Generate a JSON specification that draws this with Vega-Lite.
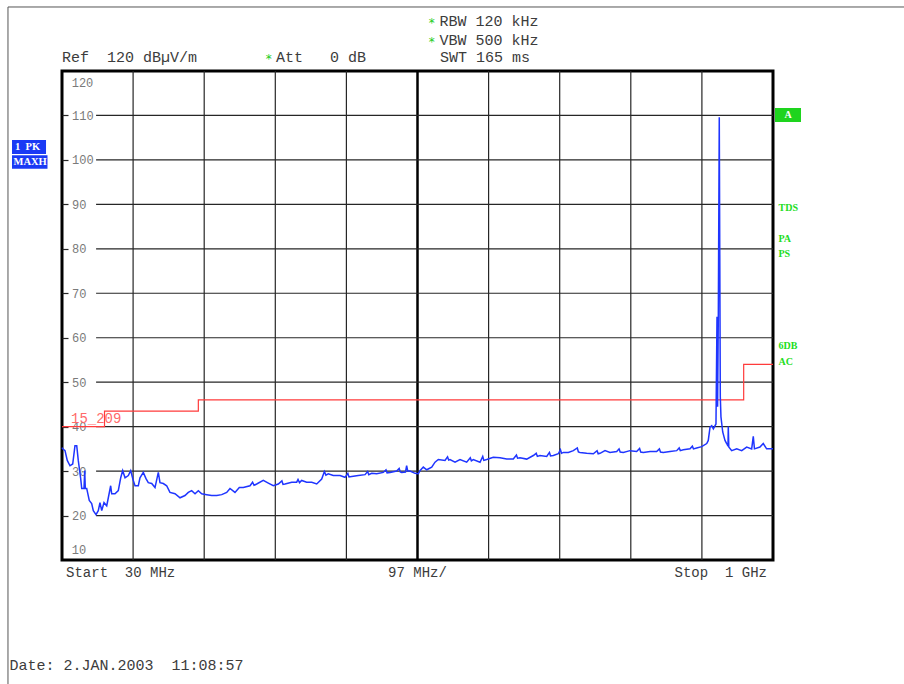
{
  "$schema": "https://vega.github.io/schema/vega-lite/v6.json",
  "width": 711,
  "height": 489,
  "autosize": "none",
  "padding": {"left": 62, "top": 71, "right": 131, "bottom": 124},
  "background": "#ffffff",
  "config": {"view": {"stroke": "#000000", "strokeWidth": 3}},
  "data": {"values": [{}]},
  "resolve": {"axis": {"x": "independent", "y": "independent"}},
  "datasets": {
    "xgrid": [{"f": 127}, {"f": 224}, {"f": 321}, {"f": 418}, {"f": 612}, {"f": 709}, {"f": 806}, {"f": 903}],
    "ygrid": [{"v": 20}, {"v": 30}, {"v": 40}, {"v": 50}, {"v": 60}, {"v": 70}, {"v": 80}, {"v": 90}, {"v": 100}, {"v": 110}],
    "limit": [{"f": 30, "v": 40}, {"f": 88, "v": 43.5}, {"f": 216, "v": 46}, {"f": 960, "v": 54}, {"f": 1000, "v": 54}],
    "trace": [
      {"f":30,"v":35.3},{"f":31,"v":35.0},{"f":34.1,"v":34.6},{"f":37.2,"v":32.4},{"f":40.9,"v":31.2},{"f":44.6,"v":31.6},{"f":47.7,"v":35.7},{"f":50.1,"v":35.7},{"f":52.2,"v":32.4},{"f":55.5,"v":28.3},{"f":56.9,"v":26.1},{"f":60,"v":26.1},{"f":61,"v":30.1},{"f":61.8,"v":26.1},{"f":63.7,"v":26.1},{"f":67.2,"v":23.4},{"f":70.5,"v":22.7},{"f":72.7,"v":21.1},{"f":76.4,"v":20.2},{"f":79.5,"v":21.1},{"f":81.8,"v":22.9},{"f":84.2,"v":21.1},{"f":87.3,"v":22.9},{"f":91,"v":22.2},{"f":93.2,"v":24.0},{"f":96.4,"v":26.7},{"f":97.8,"v":24.9},{"f":102.3,"v":24.9},{"f":106.8,"v":25.6},{"f":110.1,"v":28.5},{"f":112.8,"v":30.1},{"f":116,"v":28.5},{"f":120.5,"v":29.0},{"f":123.7,"v":30.1},{"f":126.5,"v":28.3},{"f":129.6,"v":26.7},{"f":134.1,"v":26.7},{"f":136.4,"v":28.5},{"f":140.9,"v":29.7},{"f":144.6,"v":28.3},{"f":147.7,"v":27.4},{"f":152.4,"v":27.2},{"f":156.9,"v":26.3},{"f":161.4,"v":29.7},{"f":163.7,"v":27.4},{"f":168.2,"v":27.2},{"f":172.8,"v":26.7},{"f":177.3,"v":25.2},{"f":184.2,"v":24.9},{"f":191,"v":24.0},{"f":197.8,"v":24.5},{"f":202.3,"v":25.2},{"f":206.9,"v":25.6},{"f":211.5,"v":24.9},{"f":216,"v":25.6},{"f":220.6,"v":24.9},{"f":227.4,"v":24.7},{"f":234.2,"v":24.5},{"f":241.1,"v":24.5},{"f":247.9,"v":24.7},{"f":254.7,"v":25.2},{"f":259.2,"v":26.1},{"f":266,"v":25.2},{"f":271.9,"v":26.3},{"f":277.3,"v":26.3},{"f":286.5,"v":26.7},{"f":290,"v":27.5},{"f":292,"v":26.8},{"f":295.6,"v":27.1},{"f":304.6,"v":27.9},{"f":311.5,"v":27.3},{"f":318.3,"v":26.7},{"f":325.1,"v":27.1},{"f":330,"v":27.8},{"f":331.5,"v":27.0},{"f":334.2,"v":27.1},{"f":343.4,"v":27.5},{"f":350.2,"v":27.5},{"f":352,"v":28.1},{"f":354,"v":27.4},{"f":357,"v":27.9},{"f":363.8,"v":27.5},{"f":370.7,"v":27.5},{"f":377.5,"v":27.1},{"f":384.3,"v":28.2},{"f":388,"v":29.9},{"f":390,"v":29.1},{"f":393.3,"v":29.4},{"f":400.1,"v":29.0},{"f":409.3,"v":29.0},{"f":416.1,"v":28.6},{"f":420,"v":29.5},{"f":421.5,"v":28.7},{"f":425.2,"v":28.8},{"f":434.2,"v":29.0},{"f":443.4,"v":29.2},{"f":447,"v":29.9},{"f":448.5,"v":29.2},{"f":452.5,"v":29.5},{"f":459.3,"v":29.4},{"f":468.3,"v":29.7},{"f":472,"v":30.3},{"f":473.5,"v":29.6},{"f":477.5,"v":29.7},{"f":486.6,"v":30.0},{"f":490,"v":30.6},{"f":491.5,"v":29.8},{"f":493.4,"v":29.7},{"f":498.6,"v":29.8},{"f":500.2,"v":31.2},{"f":501.7,"v":30.0},{"f":504.8,"v":30.0},{"f":511.6,"v":29.5},{"f":516.1,"v":29.4},{"f":518.4,"v":30.1},{"f":522.9,"v":30.9},{"f":527.6,"v":30.3},{"f":534.4,"v":30.9},{"f":538.9,"v":32.0},{"f":543.4,"v":32.6},{"f":552.5,"v":32.4},{"f":556,"v":33.2},{"f":557.5,"v":32.5},{"f":559.3,"v":32.6},{"f":566.2,"v":32.0},{"f":573,"v":32.6},{"f":582.1,"v":32.0},{"f":587,"v":33.0},{"f":588.5,"v":32.3},{"f":591.1,"v":32.6},{"f":600.3,"v":32.0},{"f":604,"v":33.3},{"f":605.5,"v":32.4},{"f":609.4,"v":32.6},{"f":618.4,"v":33.1},{"f":627.6,"v":33.0},{"f":636.7,"v":32.7},{"f":645.7,"v":32.7},{"f":650,"v":33.6},{"f":651.5,"v":32.9},{"f":654.8,"v":33.0},{"f":664,"v":32.7},{"f":673,"v":33.5},{"f":677,"v":34.0},{"f":678.5,"v":33.3},{"f":682.1,"v":33.5},{"f":691.3,"v":33.3},{"f":695,"v":34.2},{"f":696.5,"v":33.4},{"f":700.3,"v":33.5},{"f":707.1,"v":33.9},{"f":710,"v":34.8},{"f":711.5,"v":34.0},{"f":714,"v":34.2},{"f":720.8,"v":34.2},{"f":727.6,"v":34.6},{"f":733,"v":35.2},{"f":734.5,"v":34.3},{"f":736.7,"v":34.2},{"f":745.8,"v":34.0},{"f":754.9,"v":33.9},{"f":760,"v":34.6},{"f":761.5,"v":33.9},{"f":764,"v":34.0},{"f":770.8,"v":34.6},{"f":777.6,"v":34.2},{"f":786.8,"v":34.4},{"f":790,"v":35.0},{"f":791.5,"v":34.3},{"f":795.8,"v":34.2},{"f":804.9,"v":34.6},{"f":814,"v":34.4},{"f":818,"v":35.1},{"f":819.5,"v":34.3},{"f":823.1,"v":34.2},{"f":832.3,"v":34.4},{"f":841.3,"v":34.4},{"f":845,"v":35.0},{"f":846.5,"v":34.3},{"f":850.3,"v":34.2},{"f":859.5,"v":34.4},{"f":868.6,"v":34.6},{"f":872,"v":35.2},{"f":873.5,"v":34.6},{"f":877.6,"v":34.8},{"f":886.8,"v":35.0},{"f":890,"v":35.6},{"f":891.5,"v":35.0},{"f":895.9,"v":35.2},{"f":902.7,"v":35.5},{"f":909.6,"v":36.2},{"f":911.7,"v":36.9},{"f":914.1,"v":39.9},{"f":916.4,"v":40.2},{"f":918.6,"v":39.5},{"f":922.2,"v":40.6},{"f":923.6,"v":64.7},{"f":924.4,"v":44.5},{"f":925.4,"v":65.0},{"f":926.7,"v":109.6},{"f":928.1,"v":46.7},{"f":929,"v":42.2},{"f":931.4,"v":38.8},{"f":934.5,"v":36.9},{"f":936.8,"v":36.2},{"f":938.6,"v":35.6},{"f":939,"v":40.0},{"f":939.7,"v":35.4},{"f":943.6,"v":34.6},{"f":950.5,"v":35.0},{"f":957.3,"v":34.6},{"f":964.1,"v":35.4},{"f":970.9,"v":35.0},{"f":973.1,"v":37.8},{"f":974.7,"v":35.0},{"f":982.2,"v":35.4},{"f":986.7,"v":36.2},{"f":991.3,"v":35.0},{"f":997.2,"v":35.0},{"f":1000,"v":35.0}
    ]
  },
  "layer": [
    {
      "data": {"name": "xgrid"},
      "mark": {"type": "rule", "color": "#262626", "strokeWidth": 1.2},
      "encoding": {"x": {"field": "f", "type": "quantitative", "scale": {"domain": [30, 1000], "nice": false, "zero": false}, "axis": null}}
    },
    {
      "mark": {"type": "rule", "color": "#000000", "strokeWidth": 2.5},
      "encoding": {"x": {"datum": 515, "type": "quantitative", "scale": {"domain": [30, 1000], "nice": false, "zero": false}, "axis": null}}
    },
    {
      "data": {"name": "ygrid"},
      "mark": {"type": "rule", "color": "#262626", "strokeWidth": 1.2},
      "encoding": {
        "x": {"datum": 76.5, "type": "quantitative", "scale": {"domain": [30, 1000], "nice": false, "zero": false}, "axis": null},
        "x2": {"datum": 1000},
        "y": {"field": "v", "type": "quantitative", "scale": {"domain": [10, 120], "nice": false, "zero": false}, "axis": null}
      }
    },
    {
      "data": {"name": "limit"},
      "mark": {"type": "line", "color": "#ff3b3b", "strokeWidth": 1.2, "interpolate": "step-after"},
      "encoding": {
        "x": {"field": "f", "type": "quantitative", "scale": {"domain": [30, 1000], "nice": false, "zero": false}, "axis": null},
        "y": {"field": "v", "type": "quantitative", "scale": {"domain": [10, 120], "nice": false, "zero": false}, "axis": null}
      }
    },
    {
      "data": {"name": "trace"},
      "mark": {"type": "line", "color": "#1f35ff", "strokeWidth": 1.5},
      "encoding": {
        "x": {"field": "f", "type": "quantitative", "scale": {"domain": [30, 1000], "nice": false, "zero": false}, "axis": null},
        "y": {"field": "v", "type": "quantitative", "scale": {"domain": [10, 120], "nice": false, "zero": false},
          "axis": {"values": [20, 30, 40, 50, 60, 70, 80, 90, 100, 110], "title": null, "domain": false, "grid": false, "ticks": true, "tickSize": -6, "tickColor": "#262626", "tickWidth": 1.2, "labelPadding": -3.5, "labelAlign": "left", "labelBaseline": "middle", "labelColor": "#7a7a7a", "labelFont": "Liberation Mono", "labelFontSize": 12}}
      }
    },
    {
      "mark": {"type": "text", "text": "120", "font": "Liberation Mono", "fontSize": 12, "color": "#7a7a7a", "align": "left", "baseline": "middle"},
      "encoding": {"x": {"datum": 43.2, "type": "quantitative", "scale": {"domain": [30, 1000], "nice": false, "zero": false}, "axis": null}, "y": {"datum": 117.3, "type": "quantitative", "scale": {"domain": [10, 120], "nice": false, "zero": false}, "axis": null}}
    },
    {
      "mark": {"type": "text", "text": "10", "font": "Liberation Mono", "fontSize": 12, "color": "#7a7a7a", "align": "left", "baseline": "middle"},
      "encoding": {"x": {"datum": 43.2, "type": "quantitative", "scale": {"domain": [30, 1000], "nice": false, "zero": false}, "axis": null}, "y": {"datum": 12.25, "type": "quantitative", "scale": {"domain": [10, 120], "nice": false, "zero": false}, "axis": null}}
    },
    {
      "mark": {"type": "text", "text": "15_209", "font": "Liberation Mono", "fontSize": 14, "color": "#ff6a6a", "align": "left", "baseline": "middle"},
      "encoding": {"x": {"datum": 42.3, "type": "quantitative", "scale": {"domain": [30, 1000], "nice": false, "zero": false}, "axis": null}, "y": {"datum": 41.72, "type": "quantitative", "scale": {"domain": [10, 120], "nice": false, "zero": false}, "axis": null}}
    },
    {
      "mark": {"type": "text", "text": "*", "font": "DejaVu Sans", "fontSize": 12, "color": "#22cc22", "align": "center", "baseline": "middle", "dy": 2},
      "encoding": {"x": {"datum": 534.3, "type": "quantitative", "scale": {"domain": [30, 1000], "nice": false, "zero": false}, "axis": null}, "y": {"datum": 131.25, "type": "quantitative", "scale": {"domain": [10, 120], "nice": false, "zero": false}, "axis": null}}
    },
    {
      "mark": {"type": "text", "text": "RBW 120 kHz", "font": "Liberation Mono", "fontSize": 15, "color": "#3c3c3c", "align": "left", "baseline": "middle"},
      "encoding": {"x": {"datum": 545.0, "type": "quantitative", "scale": {"domain": [30, 1000], "nice": false, "zero": false}, "axis": null}, "y": {"datum": 131.25, "type": "quantitative", "scale": {"domain": [10, 120], "nice": false, "zero": false}, "axis": null}}
    },
    {
      "mark": {"type": "text", "text": "*", "font": "DejaVu Sans", "fontSize": 12, "color": "#22cc22", "align": "center", "baseline": "middle", "dy": 2},
      "encoding": {"x": {"datum": 534.3, "type": "quantitative", "scale": {"domain": [30, 1000], "nice": false, "zero": false}, "axis": null}, "y": {"datum": 126.97, "type": "quantitative", "scale": {"domain": [10, 120], "nice": false, "zero": false}, "axis": null}}
    },
    {
      "mark": {"type": "text", "text": "VBW 500 kHz", "font": "Liberation Mono", "fontSize": 15, "color": "#3c3c3c", "align": "left", "baseline": "middle"},
      "encoding": {"x": {"datum": 545.0, "type": "quantitative", "scale": {"domain": [30, 1000], "nice": false, "zero": false}, "axis": null}, "y": {"datum": 126.97, "type": "quantitative", "scale": {"domain": [10, 120], "nice": false, "zero": false}, "axis": null}}
    },
    {
      "mark": {"type": "text", "text": "Ref\u00a0\u00a0120 dBµV/m", "font": "Liberation Mono", "fontSize": 15, "color": "#3c3c3c", "align": "left", "baseline": "middle"},
      "encoding": {"x": {"datum": 30, "type": "quantitative", "scale": {"domain": [30, 1000], "nice": false, "zero": false}, "axis": null}, "y": {"datum": 123.15, "type": "quantitative", "scale": {"domain": [10, 120], "nice": false, "zero": false}, "axis": null}}
    },
    {
      "mark": {"type": "text", "text": "*", "font": "DejaVu Sans", "fontSize": 12, "color": "#22cc22", "align": "center", "baseline": "middle", "dy": 2},
      "encoding": {"x": {"datum": 312.0, "type": "quantitative", "scale": {"domain": [30, 1000], "nice": false, "zero": false}, "axis": null}, "y": {"datum": 123.15, "type": "quantitative", "scale": {"domain": [10, 120], "nice": false, "zero": false}, "axis": null}}
    },
    {
      "mark": {"type": "text", "text": "Att\u00a0\u00a0\u00a00 dB", "font": "Liberation Mono", "fontSize": 15, "color": "#3c3c3c", "align": "left", "baseline": "middle"},
      "encoding": {"x": {"datum": 322.0, "type": "quantitative", "scale": {"domain": [30, 1000], "nice": false, "zero": false}, "axis": null}, "y": {"datum": 123.15, "type": "quantitative", "scale": {"domain": [10, 120], "nice": false, "zero": false}, "axis": null}}
    },
    {
      "mark": {"type": "text", "text": "SWT 165 ms", "font": "Liberation Mono", "fontSize": 15, "color": "#3c3c3c", "align": "left", "baseline": "middle"},
      "encoding": {"x": {"datum": 545.7, "type": "quantitative", "scale": {"domain": [30, 1000], "nice": false, "zero": false}, "axis": null}, "y": {"datum": 123.15, "type": "quantitative", "scale": {"domain": [10, 120], "nice": false, "zero": false}, "axis": null}}
    },
    {
      "mark": {"type": "text", "text": "Start\u00a0\u00a030 MHz", "font": "Liberation Mono", "fontSize": 14, "color": "#3c3c3c", "align": "left", "baseline": "middle"},
      "encoding": {"x": {"datum": 35.5, "type": "quantitative", "scale": {"domain": [30, 1000], "nice": false, "zero": false}, "axis": null}, "y": {"datum": 7.08, "type": "quantitative", "scale": {"domain": [10, 120], "nice": false, "zero": false}, "axis": null}}
    },
    {
      "mark": {"type": "text", "text": "97 MHz/", "font": "Liberation Mono", "fontSize": 14, "color": "#3c3c3c", "align": "center", "baseline": "middle"},
      "encoding": {"x": {"datum": 515, "type": "quantitative", "scale": {"domain": [30, 1000], "nice": false, "zero": false}, "axis": null}, "y": {"datum": 7.08, "type": "quantitative", "scale": {"domain": [10, 120], "nice": false, "zero": false}, "axis": null}}
    },
    {
      "mark": {"type": "text", "text": "Stop\u00a0\u00a01 GHz", "font": "Liberation Mono", "fontSize": 14, "color": "#3c3c3c", "align": "right", "baseline": "middle"},
      "encoding": {"x": {"datum": 991.8, "type": "quantitative", "scale": {"domain": [30, 1000], "nice": false, "zero": false}, "axis": null}, "y": {"datum": 7.08, "type": "quantitative", "scale": {"domain": [10, 120], "nice": false, "zero": false}, "axis": null}}
    },
    {
      "mark": {"type": "text", "text": "Date: 2.JAN.2003\u00a0\u00a011:08:57", "font": "Liberation Mono", "fontSize": 15, "color": "#3c3c3c", "align": "left", "baseline": "middle"},
      "encoding": {"x": {"datum": -41.6, "type": "quantitative", "scale": {"domain": [30, 1000], "nice": false, "zero": false}, "axis": null}, "y": {"datum": -13.62, "type": "quantitative", "scale": {"domain": [10, 120], "nice": false, "zero": false}, "axis": null}}
    },
    {
      "mark": {"type": "rule", "color": "#555555", "strokeWidth": 1},
      "encoding": {
        "x": {"datum": -43.7, "type": "quantitative", "scale": {"domain": [30, 1000], "nice": false, "zero": false}, "axis": null},
        "y": {"datum": 134.4, "type": "quantitative", "scale": {"domain": [10, 120], "nice": false, "zero": false}, "axis": null},
        "y2": {"datum": -19.2}
      }
    },
    {
      "mark": {"type": "rule", "color": "#555555", "strokeWidth": 1},
      "encoding": {
        "x": {"datum": -43.7, "type": "quantitative", "scale": {"domain": [30, 1000], "nice": false, "zero": false}, "axis": null},
        "x2": {"datum": 1186.9},
        "y": {"datum": 134.4, "type": "quantitative", "scale": {"domain": [10, 120], "nice": false, "zero": false}, "axis": null}
      }
    },
    {
      "mark": {"type": "rect", "color": "#1a3af5"},
      "encoding": {
        "x": {"datum": -38.2, "type": "quantitative", "scale": {"domain": [30, 1000], "nice": false, "zero": false}, "axis": null},
        "x2": {"datum": 8.2},
        "y": {"datum": 104.48, "type": "quantitative", "scale": {"domain": [10, 120], "nice": false, "zero": false}, "axis": null},
        "y2": {"datum": 101.33}
      }
    },
    {
      "mark": {"type": "rect", "color": "#1a3af5"},
      "encoding": {
        "x": {"datum": -38.2, "type": "quantitative", "scale": {"domain": [30, 1000], "nice": false, "zero": false}, "axis": null},
        "x2": {"datum": 10.2},
        "y": {"datum": 101.04, "type": "quantitative", "scale": {"domain": [10, 120], "nice": false, "zero": false}, "axis": null},
        "y2": {"datum": 98.02}
      }
    },
    {
      "mark": {"type": "text", "text": "1\u00a0\u00a0PK", "font": "Liberation Serif", "fontSize": 10.5, "fontWeight": "bold", "color": "#ffffff", "align": "left", "baseline": "middle"},
      "encoding": {"x": {"datum": -34.1, "type": "quantitative", "scale": {"domain": [30, 1000], "nice": false, "zero": false}, "axis": null}, "y": {"datum": 102.9, "type": "quantitative", "scale": {"domain": [10, 120], "nice": false, "zero": false}, "axis": null}}
    },
    {
      "mark": {"type": "text", "text": "MAXH", "font": "Liberation Serif", "fontSize": 10.5, "fontWeight": "bold", "color": "#ffffff", "align": "left", "baseline": "middle"},
      "encoding": {"x": {"datum": -36.2, "type": "quantitative", "scale": {"domain": [30, 1000], "nice": false, "zero": false}, "axis": null}, "y": {"datum": 99.53, "type": "quantitative", "scale": {"domain": [10, 120], "nice": false, "zero": false}, "axis": null}}
    },
    {
      "mark": {"type": "rect", "color": "#1ed41e"},
      "encoding": {
        "x": {"datum": 1002.7, "type": "quantitative", "scale": {"domain": [30, 1000], "nice": false, "zero": false}, "axis": null},
        "x2": {"datum": 1038.2},
        "y": {"datum": 111.68, "type": "quantitative", "scale": {"domain": [10, 120], "nice": false, "zero": false}, "axis": null},
        "y2": {"datum": 108.53}
      }
    },
    {
      "mark": {"type": "text", "text": "A", "font": "Liberation Serif", "fontSize": 10, "fontWeight": "bold", "color": "#ffffff", "align": "center", "baseline": "middle"},
      "encoding": {"x": {"datum": 1020.5, "type": "quantitative", "scale": {"domain": [30, 1000], "nice": false, "zero": false}, "axis": null}, "y": {"datum": 110.1, "type": "quantitative", "scale": {"domain": [10, 120], "nice": false, "zero": false}, "axis": null}}
    },
    {
      "mark": {"type": "text", "text": "TDS", "font": "Liberation Serif", "fontSize": 10, "fontWeight": "bold", "color": "#22dd22", "align": "left", "baseline": "middle"},
      "encoding": {"x": {"datum": 1007.5, "type": "quantitative", "scale": {"domain": [30, 1000], "nice": false, "zero": false}, "axis": null}, "y": {"datum": 89.11, "type": "quantitative", "scale": {"domain": [10, 120], "nice": false, "zero": false}, "axis": null}}
    },
    {
      "mark": {"type": "text", "text": "PA", "font": "Liberation Serif", "fontSize": 10, "fontWeight": "bold", "color": "#22dd22", "align": "left", "baseline": "middle"},
      "encoding": {"x": {"datum": 1007.5, "type": "quantitative", "scale": {"domain": [30, 1000], "nice": false, "zero": false}, "axis": null}, "y": {"datum": 82.21, "type": "quantitative", "scale": {"domain": [10, 120], "nice": false, "zero": false}, "axis": null}}
    },
    {
      "mark": {"type": "text", "text": "PS", "font": "Liberation Serif", "fontSize": 10, "fontWeight": "bold", "color": "#22dd22", "align": "left", "baseline": "middle"},
      "encoding": {"x": {"datum": 1007.5, "type": "quantitative", "scale": {"domain": [30, 1000], "nice": false, "zero": false}, "axis": null}, "y": {"datum": 78.84, "type": "quantitative", "scale": {"domain": [10, 120], "nice": false, "zero": false}, "axis": null}}
    },
    {
      "mark": {"type": "text", "text": "6DB", "font": "Liberation Serif", "fontSize": 10, "fontWeight": "bold", "color": "#22dd22", "align": "left", "baseline": "middle"},
      "encoding": {"x": {"datum": 1007.5, "type": "quantitative", "scale": {"domain": [30, 1000], "nice": false, "zero": false}, "axis": null}, "y": {"datum": 58.14, "type": "quantitative", "scale": {"domain": [10, 120], "nice": false, "zero": false}, "axis": null}}
    },
    {
      "mark": {"type": "text", "text": "AC", "font": "Liberation Serif", "fontSize": 10, "fontWeight": "bold", "color": "#22dd22", "align": "left", "baseline": "middle"},
      "encoding": {"x": {"datum": 1007.5, "type": "quantitative", "scale": {"domain": [30, 1000], "nice": false, "zero": false}, "axis": null}, "y": {"datum": 54.47, "type": "quantitative", "scale": {"domain": [10, 120], "nice": false, "zero": false}, "axis": null}}
    }
  ]
}
